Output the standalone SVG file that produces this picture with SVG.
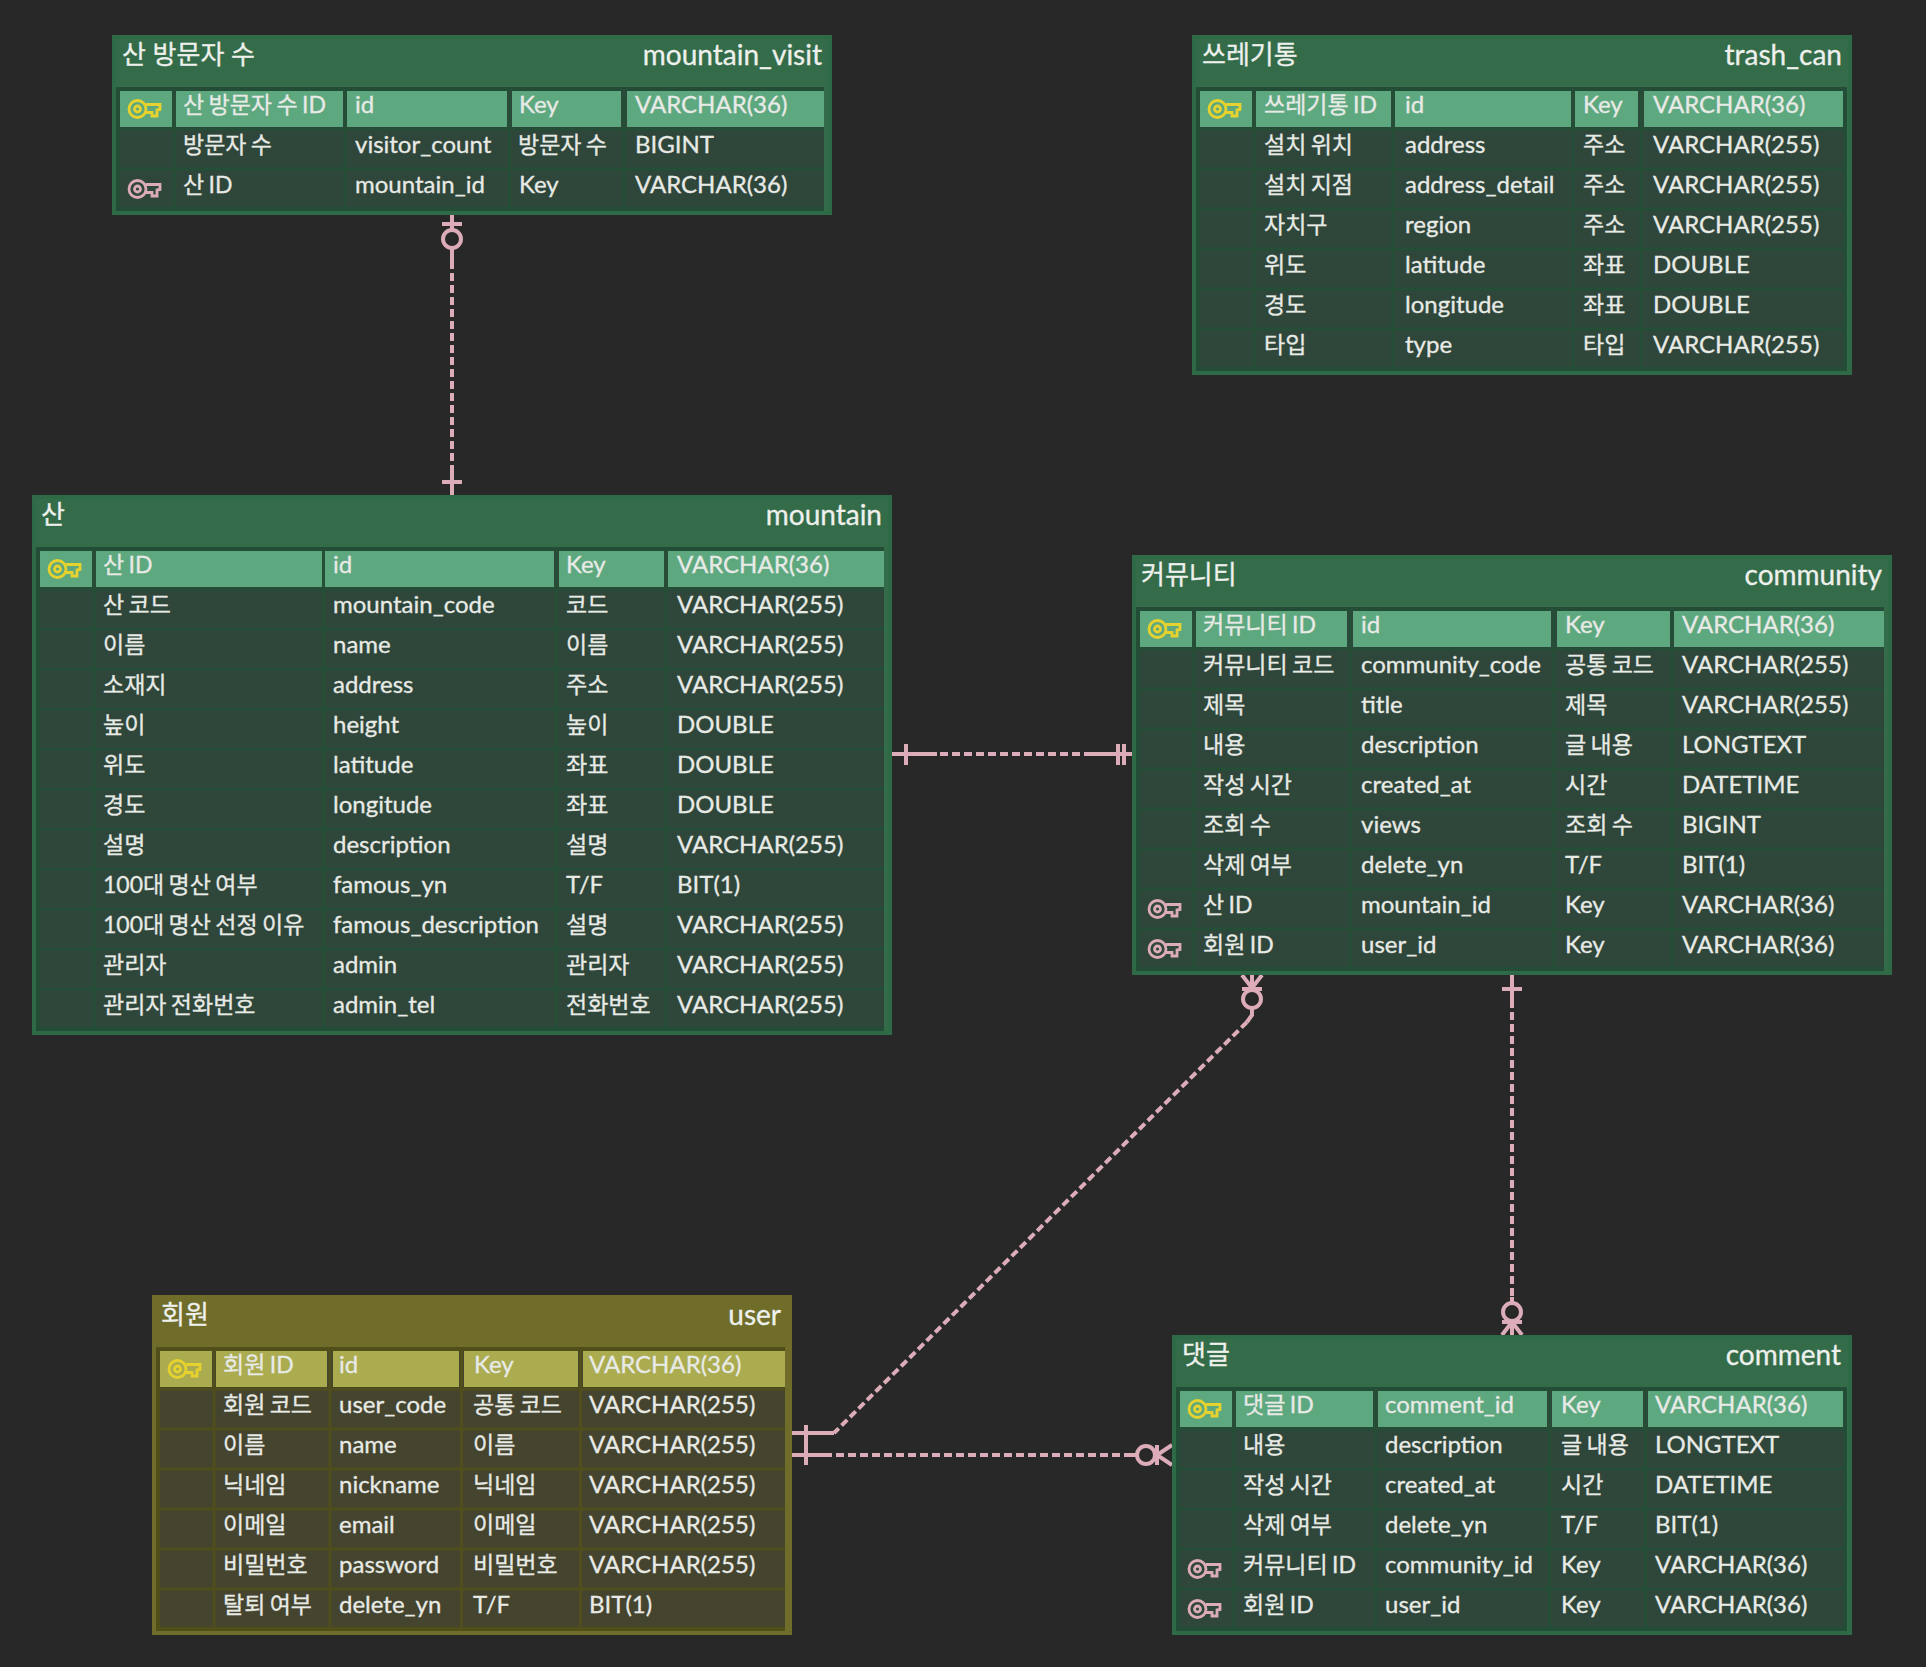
<svg xmlns="http://www.w3.org/2000/svg" width="1926" height="1667" viewBox="0 0 1926 1667">
<style>
text{font-family:"Lato","Noto Sans CJK KR",sans-serif;font-size:24px;fill:#e8eae6;stroke:#e8eae6;stroke-width:.3}
.h{font-size:23px;word-spacing:-1.5px}
.t{font-size:26px;fill:#edf0ec;stroke:#edf0ec}
.u{font-size:28px;fill:#edf0ec;stroke:#edf0ec;text-anchor:end}
.g .o{fill:#346c49;stroke:#2e6a45;stroke-width:4}
.g .i{fill:#234d36}
.g .c{fill:#2f463a}
.g .p{fill:#5ea880}
.g .l{stroke:#254e37;stroke-width:3;fill:none}
.y .o{fill:#6f6d29;stroke:#6f6d29;stroke-width:4}
.y .i{fill:#504f1a}
.y .c{fill:#44442f}
.y .p{fill:#abab50}
.y .l{stroke:#4f4e1c;stroke-width:3;fill:none}
.k{fill:none;stroke:#e6d22e;stroke-width:2.8}
.f{fill:none;stroke:#dcadb9;stroke-width:2.8}
.s{fill:none;stroke:#dcadb9;stroke-width:4}
.d{fill:none;stroke:#dcadb9;stroke-width:4;stroke-dasharray:8 4}
.n{fill:#282828;stroke:#dcadb9;stroke-width:4}
</style>
<defs>
<g id="key"><circle cx="9.500" cy="9" r="8.500"/><circle cx="9.500" cy="9" r="3"/><path d="M17.500 4.500H32V9.500L29 10V16H24V12.500H18"/></g>
</defs>
<rect width="1926" height="1667" fill="#282828"/>
<g id="connectors">
<path class="s" d="M452 215V231M442 224H462M452 249V262M452 470V495M442 482H462"/>
<path class="d" d="M452 249V482"/><circle class="n" cx="452" cy="239" r="9"/>
<path class="s" d="M892 754H937M906 744V765M1085 754H1132M1118 744V765M1124 744V765"/>
<path class="d" d="M940 754H1085"/>
<path class="s" d="M1242 975L1252 988L1262 975M1252 975V990M1242 989H1262M1252 1008V1015L1247 1022M792 1433H834M806 1425V1465M792 1455H832M1128 1455H1136M1172 1445L1157 1455L1172 1465M1157 1445V1465"/>
<path class="d" d="M1247 1022L834 1433M836 1455H1128"/>
<circle class="n" cx="1252" cy="999" r="9"/><circle class="n" cx="1146" cy="1455" r="9"/>
<path class="s" d="M1512 975V1000M1502 989H1522M1512 1297V1303M1502 1322H1522M1502 1335L1512 1322L1522 1335M1512 1322V1335"/>
<path class="d" d="M1512 1000V1297"/><circle class="n" cx="1512" cy="1312" r="9"/>
</g>
<g id="mountain_visit" class="g">
<rect class="o" x="114" y="37" width="716" height="176"/>
<rect class="i" x="116" y="87" width="708" height="124"/>
<rect class="c" x="120" y="91" width="704" height="116"/>
<path class="p" d="M120 91h52v36h-52zM176 91h167v36h-167zM347 91h160v36h-160zM512 91h109v36h-109zM627 91h197v36h-197z"/>
<path class="l" d="M120 129H824M120 169H824M174 91V207M345 91V207M509.500 91V207M624 91V207"/>
<text class="t" x="122" y="64">산 방문자 수</text><text class="u" x="822" y="65">mountain_visit</text>
<use class="k" href="#key" x="128" y="100"/><use class="f" href="#key" x="128" y="180"/>
<text class="h" x="183" y="113">산 방문자 수 ID</text><text x="355" y="113">id</text><text x="519" y="113">Key</text><text x="635" y="113">VARCHAR(36)</text>
<text class="h" x="183" y="153">방문자 수</text><text x="355" y="153">visitor_count</text><text class="h" x="518" y="153">방문자 수</text><text x="635" y="153">BIGINT</text>
<text class="h" x="183" y="193">산 ID</text><text x="355" y="193">mountain_id</text><text x="519" y="193">Key</text><text x="635" y="193">VARCHAR(36)</text>
</g>
<g id="trash_can" class="g">
<rect class="o" x="1194" y="37" width="656" height="336"/>
<rect class="i" x="1196" y="87" width="651" height="284"/>
<rect class="c" x="1200" y="91" width="643" height="276"/>
<path class="p" d="M1200 91h52v36h-52zM1256 91h135v36h-135zM1395 91h176v36h-176zM1575 91h63v36h-63zM1644 91h199v36h-199z"/>
<path class="l" d="M1200 129H1843M1200 169H1843M1200 209H1843M1200 249H1843M1200 289H1843M1200 329H1843M1254 91V367M1393 91V367M1573 91V367M1641 91V367"/>
<text class="t" x="1202" y="64">쓰레기통</text><text class="u" x="1842" y="65">trash_can</text>
<use class="k" href="#key" x="1208" y="100"/>
<text class="h" x="1264" y="113">쓰레기통 ID</text><text x="1405" y="113">id</text><text x="1583" y="113">Key</text><text x="1653" y="113">VARCHAR(36)</text>
<text class="h" x="1264" y="153">설치 위치</text><text x="1405" y="153">address</text><text class="h" x="1583" y="153">주소</text><text x="1653" y="153">VARCHAR(255)</text>
<text class="h" x="1264" y="193">설치 지점</text><text x="1405" y="193">address_detail</text><text class="h" x="1583" y="193">주소</text><text x="1653" y="193">VARCHAR(255)</text>
<text class="h" x="1264" y="233">자치구</text><text x="1405" y="233">region</text><text class="h" x="1583" y="233">주소</text><text x="1653" y="233">VARCHAR(255)</text>
<text class="h" x="1264" y="273">위도</text><text x="1405" y="273">latitude</text><text class="h" x="1583" y="273">좌표</text><text x="1653" y="273">DOUBLE</text>
<text class="h" x="1264" y="313">경도</text><text x="1405" y="313">longitude</text><text class="h" x="1583" y="313">좌표</text><text x="1653" y="313">DOUBLE</text>
<text class="h" x="1264" y="353">타입</text><text x="1405" y="353">type</text><text class="h" x="1583" y="353">타입</text><text x="1653" y="353">VARCHAR(255)</text>
</g>
<g id="mountain" class="g">
<rect class="o" x="34" y="497" width="856" height="536"/>
<rect class="i" x="36" y="547" width="848" height="484"/>
<rect class="c" x="40" y="551" width="844" height="476"/>
<path class="p" d="M40 551h52v36h-52zM96 551h226v36h-226zM325 551h229v36h-229zM559 551h105v36h-105zM668 551h216v36h-216z"/>
<path class="l" d="M40 589H884M40 629H884M40 669H884M40 709H884M40 749H884M40 789H884M40 829H884M40 869H884M40 909H884M40 949H884M40 989H884M94 551V1027M323.500 551V1027M556.500 551V1027M666 551V1027"/>
<text class="t" x="41" y="524">산</text><text class="u" x="882" y="525">mountain</text>
<use class="k" href="#key" x="48" y="560"/>
<text class="h" x="103" y="573">산 ID</text><text x="333" y="573">id</text><text x="566" y="573">Key</text><text x="677" y="573">VARCHAR(36)</text>
<text class="h" x="103" y="613">산 코드</text><text x="333" y="613">mountain_code</text><text class="h" x="566" y="613">코드</text><text x="677" y="613">VARCHAR(255)</text>
<text class="h" x="103" y="653">이름</text><text x="333" y="653">name</text><text class="h" x="566" y="653">이름</text><text x="677" y="653">VARCHAR(255)</text>
<text class="h" x="103" y="693">소재지</text><text x="333" y="693">address</text><text class="h" x="566" y="693">주소</text><text x="677" y="693">VARCHAR(255)</text>
<text class="h" x="103" y="733">높이</text><text x="333" y="733">height</text><text class="h" x="566" y="733">높이</text><text x="677" y="733">DOUBLE</text>
<text class="h" x="103" y="773">위도</text><text x="333" y="773">latitude</text><text class="h" x="566" y="773">좌표</text><text x="677" y="773">DOUBLE</text>
<text class="h" x="103" y="813">경도</text><text x="333" y="813">longitude</text><text class="h" x="566" y="813">좌표</text><text x="677" y="813">DOUBLE</text>
<text class="h" x="103" y="853">설명</text><text x="333" y="853">description</text><text class="h" x="566" y="853">설명</text><text x="677" y="853">VARCHAR(255)</text>
<text class="h" x="103" y="893">100대 명산 여부</text><text x="333" y="893">famous_yn</text><text x="566" y="893">T/F</text><text x="677" y="893">BIT(1)</text>
<text class="h" x="103" y="933">100대 명산 선정 이유</text><text x="333" y="933">famous_description</text><text class="h" x="566" y="933">설명</text><text x="677" y="933">VARCHAR(255)</text>
<text class="h" x="103" y="973">관리자</text><text x="333" y="973">admin</text><text class="h" x="566" y="973">관리자</text><text x="677" y="973">VARCHAR(255)</text>
<text class="h" x="103" y="1013">관리자 전화번호</text><text x="333" y="1013">admin_tel</text><text class="h" x="566" y="1013">전화번호</text><text x="677" y="1013">VARCHAR(255)</text>
</g>
<g id="community" class="g">
<rect class="o" x="1134" y="557" width="756" height="416"/>
<rect class="i" x="1136" y="607" width="748" height="364"/>
<rect class="c" x="1140" y="611" width="744" height="356"/>
<path class="p" d="M1140 611h52v36h-52zM1196 611h151v36h-151zM1353 611h198v36h-198zM1557 611h113v36h-113zM1674 611h210v36h-210z"/>
<path class="l" d="M1140 649H1884M1140 689H1884M1140 729H1884M1140 769H1884M1140 809H1884M1140 849H1884M1140 889H1884M1140 929H1884M1194 611V967M1350 611V967M1554 611V967M1672 611V967"/>
<text class="t" x="1141" y="584">커뮤니티</text><text class="u" x="1882" y="585">community</text>
<use class="k" href="#key" x="1148" y="620"/><use class="f" href="#key" x="1148" y="900"/><use class="f" href="#key" x="1148" y="940"/>
<text class="h" x="1203" y="633">커뮤니티 ID</text><text x="1361" y="633">id</text><text x="1565" y="633">Key</text><text x="1682" y="633">VARCHAR(36)</text>
<text class="h" x="1203" y="673">커뮤니티 코드</text><text x="1361" y="673">community_code</text><text class="h" x="1565" y="673">공통 코드</text><text x="1682" y="673">VARCHAR(255)</text>
<text class="h" x="1203" y="713">제목</text><text x="1361" y="713">title</text><text class="h" x="1565" y="713">제목</text><text x="1682" y="713">VARCHAR(255)</text>
<text class="h" x="1203" y="753">내용</text><text x="1361" y="753">description</text><text class="h" x="1565" y="753">글 내용</text><text x="1682" y="753">LONGTEXT</text>
<text class="h" x="1203" y="793">작성 시간</text><text x="1361" y="793">created_at</text><text class="h" x="1565" y="793">시간</text><text x="1682" y="793">DATETIME</text>
<text class="h" x="1203" y="833">조회 수</text><text x="1361" y="833">views</text><text class="h" x="1565" y="833">조회 수</text><text x="1682" y="833">BIGINT</text>
<text class="h" x="1203" y="873">삭제 여부</text><text x="1361" y="873">delete_yn</text><text x="1565" y="873">T/F</text><text x="1682" y="873">BIT(1)</text>
<text class="h" x="1203" y="913">산 ID</text><text x="1361" y="913">mountain_id</text><text x="1565" y="913">Key</text><text x="1682" y="913">VARCHAR(36)</text>
<text class="h" x="1203" y="953">회원 ID</text><text x="1361" y="953">user_id</text><text x="1565" y="953">Key</text><text x="1682" y="953">VARCHAR(36)</text>
</g>
<g id="user" class="y">
<rect class="o" x="154" y="1297" width="636" height="336"/>
<rect class="i" x="156" y="1347" width="629" height="284"/>
<rect class="c" x="160" y="1351" width="625" height="276"/>
<path class="p" d="M160 1351h52v36h-52zM216 1351h111v36h-111zM333 1351h126v36h-126zM464 1351h114v36h-114zM583 1351h202v36h-202z"/>
<path class="l" d="M160 1389H785M160 1429H785M160 1469H785M160 1509H785M160 1549H785M160 1589H785M214 1351V1627M330 1351V1627M461.500 1351V1627M580.500 1351V1627"/>
<text class="t" x="161" y="1324">회원</text><text class="u" x="781" y="1325">user</text>
<use class="k" href="#key" x="168" y="1360"/>
<text class="h" x="223" y="1373">회원 ID</text><text x="339" y="1373">id</text><text x="474" y="1373">Key</text><text x="589" y="1373">VARCHAR(36)</text>
<text class="h" x="223" y="1413">회원 코드</text><text x="339" y="1413">user_code</text><text class="h" x="473" y="1413">공통 코드</text><text x="589" y="1413">VARCHAR(255)</text>
<text class="h" x="223" y="1453">이름</text><text x="339" y="1453">name</text><text class="h" x="473" y="1453">이름</text><text x="589" y="1453">VARCHAR(255)</text>
<text class="h" x="223" y="1493">닉네임</text><text x="339" y="1493">nickname</text><text class="h" x="473" y="1493">닉네임</text><text x="589" y="1493">VARCHAR(255)</text>
<text class="h" x="223" y="1533">이메일</text><text x="339" y="1533">email</text><text class="h" x="473" y="1533">이메일</text><text x="589" y="1533">VARCHAR(255)</text>
<text class="h" x="223" y="1573">비밀번호</text><text x="339" y="1573">password</text><text class="h" x="473" y="1573">비밀번호</text><text x="589" y="1573">VARCHAR(255)</text>
<text class="h" x="223" y="1613">탈퇴 여부</text><text x="339" y="1613">delete_yn</text><text x="473" y="1613">T/F</text><text x="589" y="1613">BIT(1)</text>
</g>
<g id="comment" class="g">
<rect class="o" x="1174" y="1337" width="676" height="296"/>
<rect class="i" x="1176" y="1387" width="671" height="244"/>
<rect class="c" x="1180" y="1391" width="663" height="236"/>
<path class="p" d="M1180 1391h52v36h-52zM1236 1391h137v36h-137zM1378 1391h169v36h-169zM1552 1391h91v36h-91zM1648 1391h195v36h-195z"/>
<path class="l" d="M1180 1429H1843M1180 1469H1843M1180 1509H1843M1180 1549H1843M1180 1589H1843M1234 1391V1627M1375.500 1391V1627M1549.500 1391V1627M1645.500 1391V1627"/>
<text class="t" x="1182" y="1364">댓글</text><text class="u" x="1841" y="1365">comment</text>
<use class="k" href="#key" x="1188" y="1400"/><use class="f" href="#key" x="1188" y="1560"/><use class="f" href="#key" x="1188" y="1600"/>
<text class="h" x="1243" y="1413">댓글 ID</text><text x="1385" y="1413">comment_id</text><text x="1561" y="1413">Key</text><text x="1655" y="1413">VARCHAR(36)</text>
<text class="h" x="1243" y="1453">내용</text><text x="1385" y="1453">description</text><text class="h" x="1561" y="1453">글 내용</text><text x="1655" y="1453">LONGTEXT</text>
<text class="h" x="1243" y="1493">작성 시간</text><text x="1385" y="1493">created_at</text><text class="h" x="1561" y="1493">시간</text><text x="1655" y="1493">DATETIME</text>
<text class="h" x="1243" y="1533">삭제 여부</text><text x="1385" y="1533">delete_yn</text><text x="1561" y="1533">T/F</text><text x="1655" y="1533">BIT(1)</text>
<text class="h" x="1243" y="1573">커뮤니티 ID</text><text x="1385" y="1573">community_id</text><text x="1561" y="1573">Key</text><text x="1655" y="1573">VARCHAR(36)</text>
<text class="h" x="1243" y="1613">회원 ID</text><text x="1385" y="1613">user_id</text><text x="1561" y="1613">Key</text><text x="1655" y="1613">VARCHAR(36)</text>
</g>
</svg>
